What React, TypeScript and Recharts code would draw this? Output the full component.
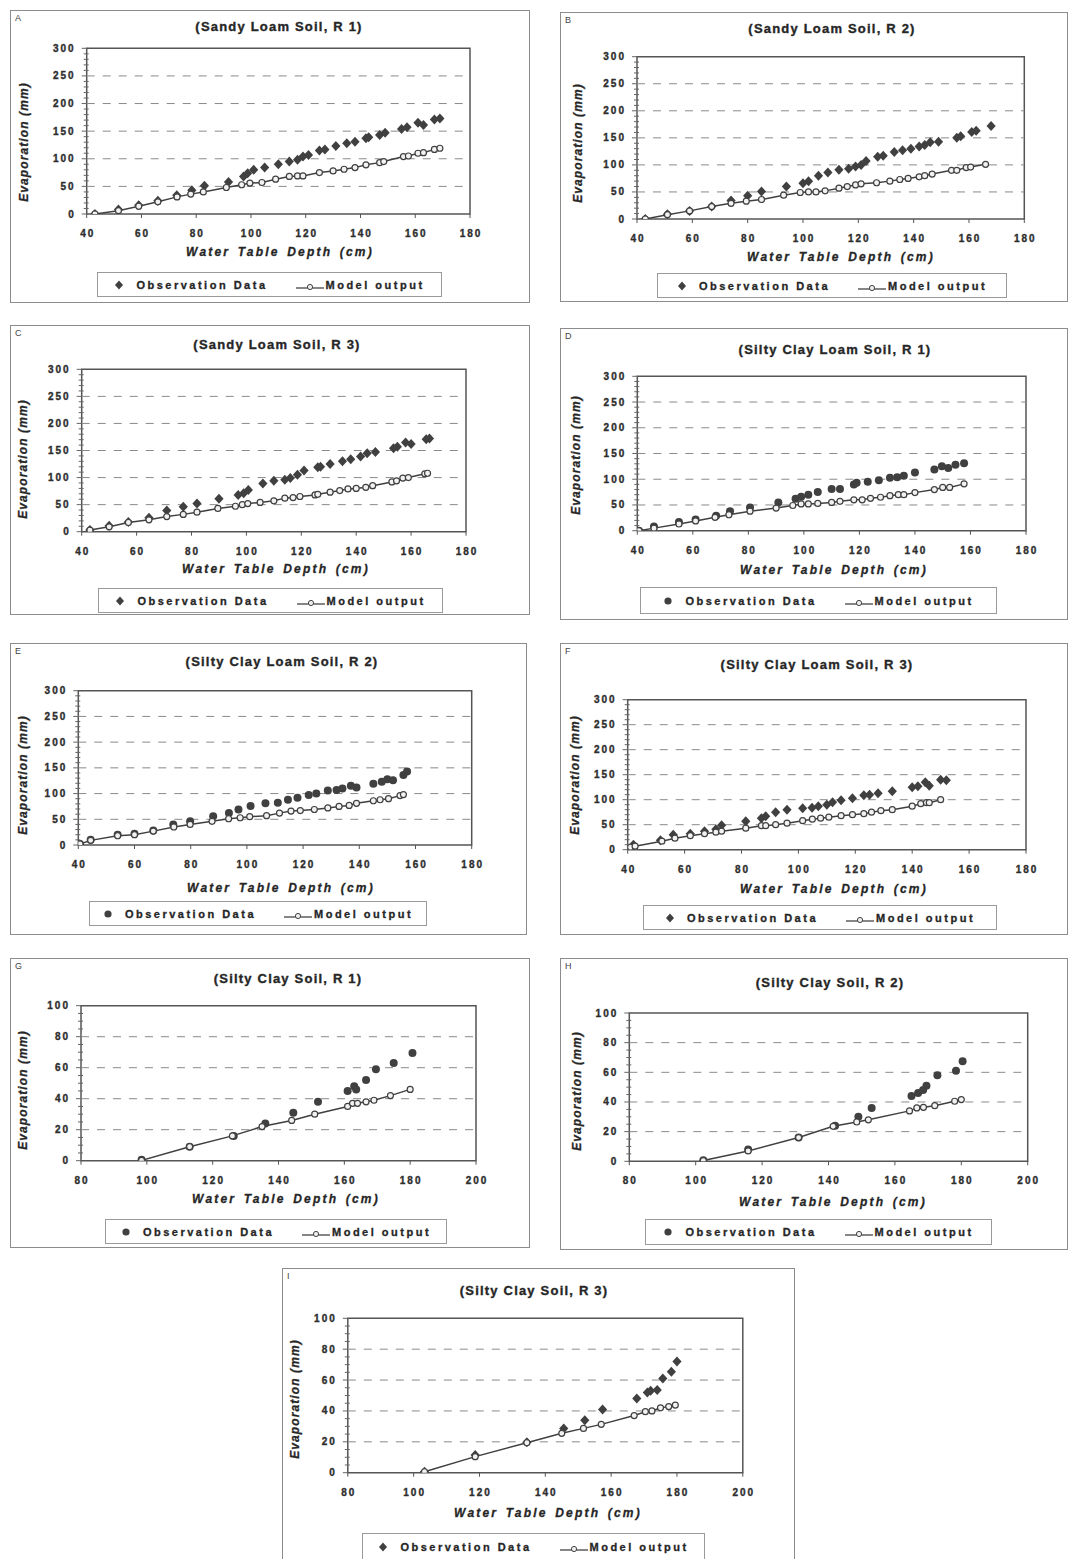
import React from 'react'
import {
  ComposedChart, Line, Scatter, XAxis, YAxis, ReferenceLine, ReferenceArea, Legend,
} from 'recharts'

type Pt = [number, number]

// values: [water table depth (cm), evaporation (mm)]
const obsA: Pt[] = [[43,0],[51.6,8],[59,16],[66,24],[72.9,34],[78.4,43],[83,51],[91.8,58],[97.3,68],[98.8,74],[101,80],[105,84],[110,90],[114,95],[117,98],[119,104],[121,107],[125,115],[127,117],[131,123],[135,128],[138,131],[142,137],[143,139],[147,143],[149,147],[155,154],[157,157],[161,165],[163,161],[167,171],[169,173]]
const modelA: Pt[] = [[43,0],[51.6,6],[59,14],[66,22],[73,31],[78,36],[82.6,40],[91,48],[96.6,53],[99.6,56],[104,57],[109,63],[114,68],[117,69],[119,69],[125,75],[130,78],[134,81],[138,84],[142,89],[147,93],[148.5,95],[155.7,104],[157.5,105],[161,110],[163,111],[167,117],[169,119]]

const obsB: Pt[] = [[43,0],[51,9],[59,15],[67,23],[74,34],[80,43],[85,51],[94,60],[100,66],[102,70],[105.6,80],[109,86],[113,91],[116.5,93],[119,97],[121,100],[122.8,107],[127,115],[129,117],[133,124],[136,127],[139,130],[142,134],[144,137],[146,142],[149,143],[155.6,150],[157,153],[161,161],[162.6,163],[168,172]]
const modelB: Pt[] = [[43,0],[51,8],[59,15],[67,23],[74,29],[79.5,33],[85,36],[93,44],[99,49],[102,50],[104.7,50],[108,52],[113,57],[116,60],[119,63],[121,65],[126.6,67],[131.4,70],[135,73],[138,75],[142,78],[144,80],[146.7,83],[153.7,90],[155.6,90],[159,95],[160.6,96],[166,101]]

const obsC: Pt[] = [[43,3],[50,11],[57,18],[64.5,26],[71,39],[77,46],[82,52],[90,61],[97,68],[99,71],[100.7,77],[106,89],[110,94],[114,96],[116,99],[118.6,105],[121,113],[126,119],[127,120],[130.5,125],[135,130],[138,134],[141.6,139],[144,145],[147,147],[153.6,154],[155,157],[158,165],[160,162],[165.5,171],[166.7,172]]
const modelC: Pt[] = [[43,3],[50,9],[57,17],[64.5,22],[71,28],[77,32],[82,36],[89.6,43],[96,47],[98.5,50],[100.5,52],[105,54],[110,57],[114,62],[117,63],[119.5,65],[125,68],[126,69],[130.5,73],[134,76],[137,79],[140,80],[143.5,82],[146,85],[153,92],[154.7,94],[157,99],[159,100],[165,107],[166,108]]

const obsD: Pt[] = [[40.6,0],[46,8],[55,17],[61,22],[68.4,29],[73.4,38],[80.6,45],[90.8,55],[97,62],[99,66],[101.6,70],[105,75],[110,81],[113,81],[118,90],[119,93],[123,95],[127,98],[131,103],[133.6,104],[136,107],[140,113],[147,119],[149.7,125],[152,122],[154.6,128],[157.7,131]]
const modelD: Pt[] = [[40.6,0],[46,5],[55,13],[61,19],[68,26],[73,31],[80.6,38],[90,44],[96,49],[99,52],[101.6,52],[105,53],[110,55],[113,57],[118,60],[121,60],[124,63],[127.6,65],[131,68],[134,70],[136,70],[140,74],[147,80],[150,84],[152.5,84],[157.7,91]]

const obsE: Pt[] = [[40.6,2],[44.4,10],[54,20],[60,22],[66.7,28],[73.8,40],[79.8,46],[88,56],[93.6,62],[97,69],[101.3,76],[106.6,81],[111,82],[114.6,88],[118,92],[122,97],[124.7,100],[128.8,106],[131.9,107],[134,110],[137,115],[139,112],[145,119],[148,123],[150,128],[152,126],[155.7,136],[157,143]]
const modelE: Pt[] = [[40.6,2],[44.4,9],[54,18],[60,20],[66.7,27],[74,35],[79.8,40],[87.6,46],[93.5,51],[97.6,53],[101,55],[107,57],[111.6,62],[115.7,66],[119,67],[124,69],[128.8,72],[132.8,75],[136.4,77],[139,81],[145,86],[147.4,88],[150.4,90],[154.5,96],[155.7,98]]

const obsF: Pt[] = [[42,10],[51.5,19],[56,30],[62,32],[67,37],[71,41],[73,49],[81.5,57],[87,63],[88.5,67],[92,75],[96,80],[101.5,83],[104.8,84],[107,87],[110,90],[112,95],[115,99],[119,103],[123,109],[125,110],[128,113],[133,117],[140,125],[142,127],[144.6,135],[146,128],[150,140],[152,139]]
const modelF: Pt[] = [[41,5],[42.6,7],[52,17],[56.6,23],[62,28],[67,32],[71,35],[73,37],[81.5,43],[87,48],[88.5,48],[92,50],[96,53],[101.5,58],[104.9,61],[107.8,63],[110.7,65],[115,68],[119,70],[123,72],[125.7,75],[129,78],[133,80],[140,87],[143,92],[145,94],[146,94],[150,100]]

const obsG: Pt[] = [[98.4,0.6],[113,9],[126.4,16],[136,24],[144.5,31],[152,38],[161,45],[163,48],[163.6,46],[166.6,52],[169.6,59],[175,63],[180.7,69.5]]
const modelG: Pt[] = [[98.4,0.2],[113,9],[126,16],[135,22],[144,26],[151,30],[161,35],[162.5,37],[164,37],[166.6,38],[169,39],[174,42],[180,46]]

const obsH: Pt[] = [[102.3,0.7],[115.8,8],[131,16],[142,24],[149,30],[153,36],[165,44],[167,46],[168.5,48],[169.5,51],[172.8,58],[178.4,61],[180.4,67.5]]
const modelH: Pt[] = [[102.3,0.5],[115.8,7],[131,16],[141.4,23.6],[148.5,26.5],[152,28],[164.4,34],[166.6,36],[168.6,36.4],[172,37.5],[178,40.5],[180,41.6]]

const obsI: Pt[] = [[103.3,0.6],[118.7,11.4],[134.4,19.7],[145.6,28.7],[152,34],[157.4,41],[167.8,48],[171,52],[172,53],[174,53.6],[175.7,61],[178.3,65.4],[180,72]]
const modelI: Pt[] = [[103.3,0.6],[118.7,10.4],[134.4,19.4],[145,25.5],[151.6,28.7],[157,31.3],[167,37],[170.4,39.5],[172.4,40],[175,42],[177.5,42.8],[179.5,43.8]]

// axis ticks
const xTicksLoam = [40, 60, 80, 100, 120, 140, 160, 180]
const xTicksClay = [80, 100, 120, 140, 160, 180, 200]
const yTicks300 = [0, 50, 100, 150, 200, 250, 300]
const yMinor300 = [0,10,20,30,40,50,60,70,80,90,100,110,120,130,140,150,160,170,180,190,200,210,220,230,240,250,260,270,280,290,300]
const grid300 = [50, 100, 150, 200, 250]
const yTicks100 = [0, 20, 40, 60, 80, 100]
const yMinor100 = [0,5,10,15,20,25,30,35,40,45,50,55,60,65,70,75,80,85,90,95,100]
const grid100 = [20, 40, 60, 80]

const FONT = "'Liberation Sans', Arial, Helvetica, sans-serif"
const INK = '#262626'
const MARK = '#404040'

type Shape = 'diamond' | 'circle'
type Box = [number, number, number, number]

interface PanelCfg {
  letter: string
  title: string
  obs: Pt[]
  model: Pt[]
  xTicks: number[]
  yTicks: number[]
  yMinor: number[]
  grid: number[]
  shape: Shape
  box: Box      // panel frame (page px)
  plot: Box     // plot area (page px)
  titleAt: [number, number]
  xLabelAt: [number, number]
  yLabelAt: [number, number]
  legend: Box
}

const panels: PanelCfg[] = [
  { letter: 'A', title: '(Sandy Loam Soil, R 1)', obs: obsA, model: modelA, xTicks: xTicksLoam, yTicks: yTicks300, yMinor: yMinor300, grid: grid300, shape: 'diamond',
    box: [10, 10, 530, 303], plot: [86.7, 48.3, 470, 214], titleAt: [279, 27], xLabelAt: [280, 252], yLabelAt: [24, 142], legend: [97, 272, 442, 297] },
  { letter: 'B', title: '(Sandy Loam Soil, R 2)', obs: obsB, model: modelB, xTicks: xTicksLoam, yTicks: yTicks300, yMinor: yMinor300, grid: grid300, shape: 'diamond',
    box: [560, 12, 1068, 302], plot: [637, 56.7, 1024.3, 219], titleAt: [832, 29], xLabelAt: [841, 257], yLabelAt: [578, 143], legend: [657, 273, 1007, 298] },
  { letter: 'C', title: '(Sandy Loam Soil, R 3)', obs: obsC, model: modelC, xTicks: xTicksLoam, yTicks: yTicks300, yMinor: yMinor300, grid: grid300, shape: 'diamond',
    box: [10, 325, 530, 615], plot: [81.7, 369.3, 466, 531.7], titleAt: [277, 345], xLabelAt: [276, 569], yLabelAt: [23, 459], legend: [98, 588, 443, 613] },
  { letter: 'D', title: '(Silty Clay Loam Soil, R 1)', obs: obsD, model: modelD, xTicks: xTicksLoam, yTicks: yTicks300, yMinor: yMinor300, grid: grid300, shape: 'circle',
    box: [560, 328, 1068, 620], plot: [637.3, 376.3, 1026, 530.7], titleAt: [835, 350], xLabelAt: [834, 570], yLabelAt: [576, 455], legend: [640, 587, 997, 614] },
  { letter: 'E', title: '(Silty Clay Loam Soil, R 2)', obs: obsE, model: modelE, xTicks: xTicksLoam, yTicks: yTicks300, yMinor: yMinor300, grid: grid300, shape: 'circle',
    box: [10, 643, 527, 935], plot: [78.3, 690.7, 471.7, 845], titleAt: [282, 662], xLabelAt: [281, 888], yLabelAt: [23, 775], legend: [89, 901, 427, 926] },
  { letter: 'F', title: '(Silty Clay Loam Soil, R 3)', obs: obsF, model: modelF, xTicks: xTicksLoam, yTicks: yTicks300, yMinor: yMinor300, grid: grid300, shape: 'diamond',
    box: [560, 643, 1068, 935], plot: [627.7, 699.7, 1026, 849.7], titleAt: [817, 665], xLabelAt: [834, 889], yLabelAt: [575, 775], legend: [643, 905, 997, 930] },
  { letter: 'G', title: '(Silty Clay Soil, R 1)', obs: obsG, model: modelG, xTicks: xTicksClay, yTicks: yTicks100, yMinor: yMinor100, grid: grid100, shape: 'circle',
    box: [10, 958, 530, 1248], plot: [81, 1005.7, 476, 1160.7], titleAt: [288, 979], xLabelAt: [286, 1199], yLabelAt: [23, 1090], legend: [105, 1219, 447, 1244] },
  { letter: 'H', title: '(Silty Clay Soil, R 2)', obs: obsH, model: modelH, xTicks: xTicksClay, yTicks: yTicks100, yMinor: yMinor100, grid: grid100, shape: 'circle',
    box: [560, 958, 1068, 1250], plot: [629.3, 1013, 1027.7, 1161.3], titleAt: [830, 983], xLabelAt: [833, 1202], yLabelAt: [577, 1091], legend: [645, 1219, 992, 1245] },
  { letter: 'I', title: '(Silty Clay Soil, R 3)', obs: obsI, model: modelI, xTicks: xTicksClay, yTicks: yTicks100, yMinor: yMinor100, grid: grid100, shape: 'diamond',
    box: [282, 1268, 795, 1562], plot: [347.8, 1318.3, 742.8, 1472.7], titleAt: [534, 1291], xLabelAt: [548, 1513], yLabelAt: [295, 1399], legend: [362, 1533, 705, 1560] },
]

// scanned print looks heavy, so texts get a thin stroke of their own colour
const tickText = { fontFamily: FONT, fontWeight: 700, fontSize: 10, letterSpacing: 2, fill: '#2e2e2e', stroke: '#2e2e2e', strokeWidth: 0.35 }
const axisText = { fontFamily: FONT, fontWeight: 700, fontStyle: 'italic', fontSize: 12, fill: INK, stroke: INK, strokeWidth: 0.3 }

const XTick = ({ x, y, payload }: any) => (
  <g>
    <line x1={x} x2={x} y1={y} y2={y + 4} stroke="#555" />
    <text x={x + 1} y={y + 19.5} dy="0.35em" textAnchor="middle" style={tickText}>{payload.value}</text>
  </g>
)

const makeYTick = (major: number[]) => ({ x, y, payload }: any) => {
  const isMajor = major.includes(payload.value)
  return (
    <g>
      <line x1={x - (isMajor ? 5 : 3)} x2={x + (isMajor ? 0 : 2)} y1={y} y2={y} stroke="#666" />
      {isMajor && (
        <text x={x - 11} y={y} dy="0.35em" textAnchor="end" style={tickText}>{payload.value}</text>
      )}
    </g>
  )
}

const obsMarker = (shape: Shape) => (props: any) => {
  const { cx, cy } = props
  if (cx == null || cy == null) return <g />
  return shape === 'diamond'
    ? <path d={`M${cx},${cy - 5}L${cx + 4.6},${cy}L${cx},${cy + 5}L${cx - 4.6},${cy}Z`} fill={MARK} />
    : <circle cx={cx} cy={cy} r={4} fill={MARK} />
}

function LegendBox({ shape }: { shape: Shape }) {
  return (
    <div style={{
      width: '100%', height: '100%', boxSizing: 'border-box', border: '1px solid #9a9a9a',
      display: 'flex', alignItems: 'center', justifyContent: 'center',
      fontFamily: FONT, fontWeight: 700, fontSize: 11, letterSpacing: 2.5, color: INK,
      WebkitTextStroke: '0.3px #262626',
    }}>
      <svg width={10} height={10}>
        {shape === 'diamond'
          ? <path d="M5,0.5L9,5L5,9.5L1,5Z" fill={MARK} />
          : <circle cx={5} cy={5} r={3.6} fill={MARK} />}
      </svg>
      <span style={{ marginLeft: 12 }}>Observation Data</span>
      <svg width={28} height={14} style={{ marginLeft: 28 }}>
        <line x1={0} x2={28} y1={10} y2={10} stroke="#444" strokeWidth={1.3} />
        <circle cx={14} cy={9} r={2.6} fill="#eee" stroke="#444" strokeWidth={1} />
      </svg>
      <span style={{ marginLeft: 2 }}>Model output</span>
    </div>
  )
}

function Panel({ p }: { p: PanelCfg }) {
  const [bl, bt, br, bb] = p.box
  const [pl, pt, pr, pb] = p.plot
  const w = br - bl
  const h = bb - bt
  const xDomain = [p.xTicks[0], p.xTicks[p.xTicks.length - 1]]
  const yMax = p.yTicks[p.yTicks.length - 1]
  const obs = p.obs.map(([x, y]) => ({ x, y }))
  const model = p.model.map(([x, y]) => ({ x, y }))
  const [xlx, xly] = [p.xLabelAt[0] - bl, p.xLabelAt[1] - bt]
  const [ylx, yly] = [p.yLabelAt[0] - bl, p.yLabelAt[1] - bt]
  const [ll, lt, lr, lb] = p.legend

  return (
    <div style={{ position: 'absolute', left: bl, top: bt, width: w, height: h }}>
      <div style={{ position: 'absolute', inset: 0, border: '1.5px solid #8c8c8c', boxSizing: 'border-box' }} />
      <div style={{ position: 'absolute', left: 5, top: 3, fontFamily: FONT, fontSize: 9, color: '#444' }}>{p.letter}</div>
      <div style={{ position: 'absolute', left: 0, top: 0 }}>
        <ComposedChart width={w} height={h} margin={{ top: pt - bt, right: br - pr, left: 0, bottom: 0 }}>
          <XAxis
            type="number" dataKey="x" domain={xDomain} ticks={p.xTicks} interval={0} allowDataOverflow
            height={bb - pb} tickSize={0} tickMargin={0} tickLine={false} axisLine={false} tick={XTick}
            label={{
              content: () => (
                <text x={xlx} y={xly} textAnchor="middle" dominantBaseline="central"
                  style={{ ...axisText, letterSpacing: 2.2, wordSpacing: 2 }}>
                  Water Table Depth (cm)
                </text>
              ),
            }}
          />
          <YAxis
            type="number" dataKey="y" domain={[0, yMax]} ticks={p.yMinor} interval={0} allowDataOverflow
            width={pl - bl} tickSize={0} tickMargin={0} tickLine={false} axisLine={false} tick={makeYTick(p.yTicks)}
            label={{
              content: () => (
                <text x={ylx} y={yly} transform={`rotate(-90 ${ylx} ${yly})`} textAnchor="middle" dominantBaseline="central"
                  style={{ ...axisText, letterSpacing: 1.1 }}>
                  Evaporation (mm)
                </text>
              ),
            }}
          />
          {p.grid.map((v) => (
            <ReferenceLine key={v} y={v} stroke="#8a8a8a" strokeWidth={1} strokeDasharray="8 8" />
          ))}
          <ReferenceArea x1={xDomain[0]} x2={xDomain[1]} y1={0} y2={yMax} fill="none" stroke="#555" strokeWidth={1.5} />
          <Line
            data={model} dataKey="y" type="linear" stroke="#404040" strokeWidth={1.5}
            dot={{ r: 3, fill: '#f2f2f2', stroke: '#404040', strokeWidth: 1.2 }} activeDot={false}
            isAnimationActive={false}
          />
          <Scatter data={obs} dataKey="y" shape={obsMarker(p.shape)} isAnimationActive={false} />
          <Legend
            layout="vertical" align="center" verticalAlign="middle"
            wrapperStyle={{ left: ll - bl, top: lt - bt, width: lr - ll, height: lb - lt }}
            content={() => <LegendBox shape={p.shape} />}
          />
        </ComposedChart>
      </div>
      <div style={{
        position: 'absolute', left: p.titleAt[0] - bl - 200, top: p.titleAt[1] - bt - 9, width: 400, height: 18,
        lineHeight: '18px', textAlign: 'center', fontFamily: FONT, fontWeight: 700, fontSize: 13, letterSpacing: 1.2, color: INK,
        WebkitTextStroke: '0.35px #262626',
      }}>
        {p.title}
      </div>
    </div>
  )
}

export default function App() {
  return (
    <div style={{ position: 'absolute', left: 0, top: 0, width: 1069, height: 1559, overflow: 'hidden', background: '#fff' }}>
      {panels.map((p) => <Panel key={p.letter} p={p} />)}
    </div>
  )
}
